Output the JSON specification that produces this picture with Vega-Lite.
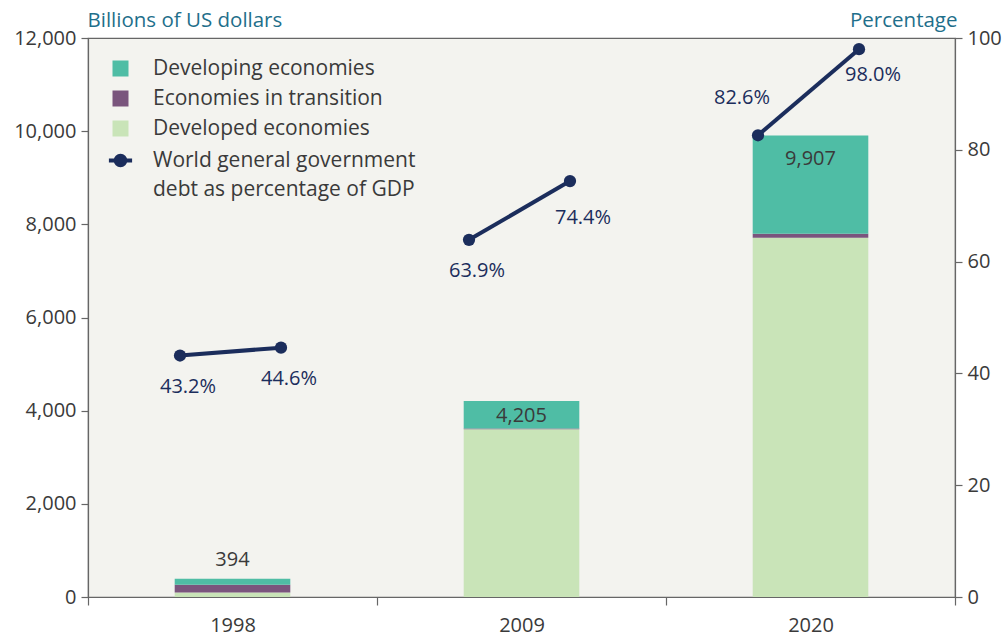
{
  "$schema": "https://vega.github.io/schema/vega-lite/v6.json",
  "width": 867,
  "height": 559,
  "autosize": {"type": "none"},
  "padding": {"left": 88, "top": 38, "right": 48, "bottom": 42},
  "background": "white",
  "config": {
    "font": "Open Sans",
    "view": {"fill": "#f3f3ef", "stroke": "#666666", "strokeWidth": 1.2},
    "axis": {
      "labelFont": "Open Sans", "labelFontSize": 20, "labelColor": "#3a3a3a",
      "titleFont": "Open Sans", "titleFontSize": 20.5, "titleColor": "#1f6f8b", "titleFontWeight": "normal",
      "domainColor": "#666666", "tickColor": "#666666", "tickSize": 7, "grid": false, "domainWidth": 1.2, "tickWidth": 1.2
    },
    "legend": {
      "orient": "none", "legendX": 22, "legendY": 20, "padding": 0,
      "labelFont": "Open Sans", "labelFontSize": 21, "labelColor": "#3a3a3a",
      "labelOffset": 22, "rowPadding": 8, "symbolSize": 256, "symbolType": "square", "labelLimit": 0
    }
  },
  "datasets": {
    "debt": [
      {"year": "1998", "type": "Developed economies", "value": 95},
      {"year": "1998", "type": "Economies in transition", "value": 170},
      {"year": "1998", "type": "Developing economies", "value": 129},
      {"year": "2009", "type": "Developed economies", "value": 3600},
      {"year": "2009", "type": "Economies in transition", "value": 15},
      {"year": "2009", "type": "Developing economies", "value": 590},
      {"year": "2020", "type": "Developed economies", "value": 7713},
      {"year": "2020", "type": "Economies in transition", "value": 86},
      {"year": "2020", "type": "Developing economies", "value": 2108}
    ],
    "ratio": [
      {"year": "1998", "pt": "start", "pct": 43.2},
      {"year": "1998", "pt": "end", "pct": 44.6},
      {"year": "2009", "pt": "start", "pct": 63.9},
      {"year": "2009", "pt": "end", "pct": 74.4},
      {"year": "2020", "pt": "start", "pct": 82.6},
      {"year": "2020", "pt": "end", "pct": 98.0}
    ]
  },
  "layer": [
    {
      "data": {"name": "debt"},
      "layer": [
        {
          "transform": [{"calculate": "indexof(['Developed economies', 'Economies in transition', 'Developing economies'], datum.type)", "as": "stackOrder"}],
          "mark": {"type": "bar", "width": {"band": 0.4}},
          "encoding": {
            "x": {"field": "year", "type": "ordinal", "scale": {"paddingInner": 0, "paddingOuter": 0},
                  "axis": {"title": null, "tickBand": "extent", "labelAngle": 0, "labelPadding": 10, "tickSize": 8}},
            "y": {"field": "value", "type": "quantitative", "stack": "zero",
                  "scale": {"domain": [0, 12000]},
                  "axis": {"values": [0, 2000, 4000, 6000, 8000, 10000, 12000], "format": ",.0f", "labelPadding": 5,
                           "title": "Billions of US dollars", "titleAngle": 0, "titleAlign": "left", "titleBaseline": "alphabetic",
                           "titleX": -1, "titleY": -12}},
            "order": {"field": "stackOrder", "type": "quantitative", "sort": "ascending"},
            "color": {"field": "type", "type": "nominal",
                      "scale": {"domain": ["Developing economies", "Economies in transition", "Developed economies", "World general government debt as percentage of GDP"],
                                "range": ["#4fbda5", "#7a557d", "#c9e4b8", "#1b2d5c"]},
                      "legend": {"title": null,
                                 "labelExpr": "datum.label == 'World general government debt as percentage of GDP' ? ['World general government', 'debt as percentage of GDP'] : datum.label",
                                 "encode": {
                                   "labels": {"update": {"lineHeight": {"value": 29}}},
                                   "symbols": {"update": {
                                   "shape": {"signal": "datum.value == 'World general government debt as percentage of GDP' ? 'M-1.45,0L1.45,0M0.6,0A0.6,0.6,0,1,1,-0.6,0A0.6,0.6,0,1,1,0.6,0' : 'square'"},
                                   "strokeWidth": {"signal": "datum.value == 'World general government debt as percentage of GDP' ? 4 : 0"}
                                 }}}}}
          }
        },
        {
          "transform": [{"aggregate": [{"op": "sum", "field": "value", "as": "total"}], "groupby": ["year"]}],
          "layer": [
            {
              "transform": [{"filter": "datum.year == '1998'"}],
              "mark": {"type": "text", "fontSize": 20, "color": "#3a3a3a", "baseline": "middle", "dy": -19},
              "encoding": {"x": {"field": "year", "type": "ordinal"}, "y": {"field": "total", "type": "quantitative"}, "text": {"field": "total", "type": "quantitative", "format": ",.0f"}}
            },
            {
              "transform": [{"filter": "datum.year == '2009'"}],
              "mark": {"type": "text", "fontSize": 20, "color": "#3a3a3a", "baseline": "middle", "dy": 15},
              "encoding": {"x": {"field": "year", "type": "ordinal"}, "y": {"field": "total", "type": "quantitative"}, "text": {"field": "total", "type": "quantitative", "format": ",.0f"}}
            },
            {
              "transform": [{"filter": "datum.year == '2020'"}],
              "mark": {"type": "text", "fontSize": 20, "color": "#3a3a3a", "baseline": "middle", "dy": 24},
              "encoding": {"x": {"field": "year", "type": "ordinal"}, "y": {"field": "total", "type": "quantitative"}, "text": {"field": "total", "type": "quantitative", "format": ",.0f"}}
            }
          ]
        }
      ]
    },
    {
      "data": {"name": "ratio"},
      "transform": [{"calculate": "format(datum.pct, '.1f') + '%'", "as": "label"}],
      "encoding": {
        "x": {"field": "year", "type": "ordinal", "scale": {"paddingInner": 0, "paddingOuter": 0}, "axis": null},
        "xOffset": {"field": "pt", "type": "nominal", "sort": ["start", "end"], "scale": {"type": "point", "range": [92, 193], "padding": 0}},
        "y": {"field": "pct", "type": "quantitative", "scale": {"domain": [0, 100]},
              "axis": {"orient": "right", "values": [0, 20, 40, 60, 80, 100], "labelPadding": 5,
                       "title": "Percentage", "titleAngle": 0, "titleAlign": "right", "titleBaseline": "alphabetic",
                       "titleX": 2, "titleY": -12}}
      },
      "layer": [
        {
          "mark": {"type": "line", "strokeWidth": 4, "point": {"filled": true, "size": 150, "color": "#1b2d5c"}},
          "encoding": {"detail": {"field": "year"}, "color": {"datum": "World general government debt as percentage of GDP"}}
        },
        {
          "transform": [{"filter": {"field": "pct", "oneOf": [43.2, 44.6, 63.9]}}],
          "mark": {"type": "text", "fontSize": 20, "color": "#1b2d5c", "baseline": "middle", "dx": 8, "dy": 31},
          "encoding": {"text": {"field": "label"}}
        },
        {
          "transform": [{"filter": {"field": "pct", "oneOf": [74.4]}}],
          "mark": {"type": "text", "fontSize": 20, "color": "#1b2d5c", "baseline": "middle", "dx": 13, "dy": 37},
          "encoding": {"text": {"field": "label"}}
        },
        {
          "transform": [{"filter": {"field": "pct", "oneOf": [98.0]}}],
          "mark": {"type": "text", "fontSize": 20, "color": "#1b2d5c", "baseline": "middle", "dx": 14, "dy": 26},
          "encoding": {"text": {"field": "label"}}
        },
        {
          "transform": [{"filter": {"field": "pct", "oneOf": [82.6]}}],
          "mark": {"type": "text", "fontSize": 20, "color": "#1b2d5c", "baseline": "middle", "dx": -16, "dy": -37},
          "encoding": {"text": {"field": "label"}}
        }
      ]
    }
  ],
  "resolve": {"scale": {"y": "independent", "x": "independent", "xOffset": "independent"}}
}
